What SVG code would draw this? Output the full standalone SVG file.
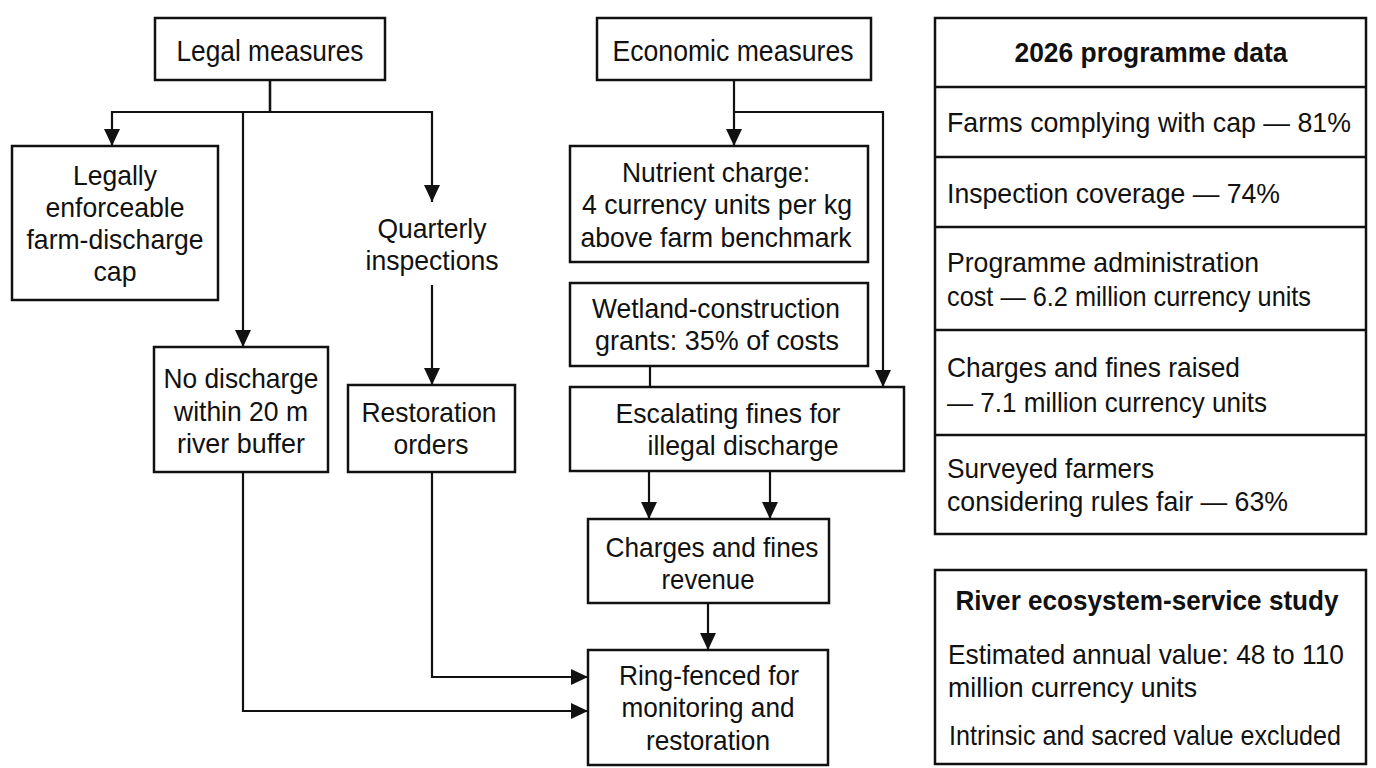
<svg xmlns="http://www.w3.org/2000/svg" width="1376" height="768" viewBox="0 0 1376 768">
<style>
.box{fill:#fff;stroke:#111;stroke-width:2.5}
.t{font-family:"Liberation Sans",Arial,sans-serif;font-size:28px;fill:#111;text-anchor:middle}
.tt{font-family:"Liberation Sans",Arial,sans-serif;font-size:29px;fill:#111;text-anchor:middle}
.p{font-family:"Liberation Sans",Arial,sans-serif;font-size:28px;fill:#111}
.h{font-family:"Liberation Sans",Arial,sans-serif;font-size:28px;font-weight:bold;fill:#111;text-anchor:middle}
.c{fill:none;stroke:#111;stroke-width:2.2}
.d{fill:none;stroke:#111;stroke-width:2.5}
</style>
<defs>
<marker id="ah" markerUnits="userSpaceOnUse" markerWidth="18" markerHeight="16" refX="17" refY="8" orient="auto" viewBox="0 0 18 16">
<path d="M0,0 L17,8 L0,16 z" fill="#111"/>
</marker>
</defs>
<rect width="1376" height="768" fill="#fff"/>
<g id="connectors">
<path class="c" d="M270,80 V112 H112 V146" marker-end="url(#ah)"/>
<path class="c" d="M270,80 V112 H243 V347" marker-end="url(#ah)"/>
<path class="c" d="M270,80 V112 H432 V202" marker-end="url(#ah)"/>
<path class="c" d="M432,285 V385" marker-end="url(#ah)"/>
<path class="c" d="M243,472 V711 H588" marker-end="url(#ah)"/>
<path class="c" d="M432,472 V677 H588" marker-end="url(#ah)"/>
<path class="c" d="M734,80 V146" marker-end="url(#ah)"/>
<path class="c" d="M734,112 H883 V387" marker-end="url(#ah)"/>
<path class="c" d="M650,366 V387"/>
<path class="c" d="M649,471 V519" marker-end="url(#ah)"/>
<path class="c" d="M770,471 V519" marker-end="url(#ah)"/>
<path class="c" d="M708,603 V650" marker-end="url(#ah)"/>
</g>
<g id="legal">
<rect class="box" x="155" y="18" width="230" height="62"/>
<text class="tt" x="270" y="61" textLength="187" lengthAdjust="spacingAndGlyphs">Legal measures</text>
</g>
<g id="cap">
<rect class="box" x="12" y="146" width="206" height="154"/>
<text class="t" x="115" y="185" textLength="84" lengthAdjust="spacingAndGlyphs">Legally</text>
<text class="t" x="115" y="217" textLength="139" lengthAdjust="spacingAndGlyphs">enforceable</text>
<text class="t" x="115" y="249" textLength="177" lengthAdjust="spacingAndGlyphs">farm-discharge</text>
<text class="t" x="115" y="281" textLength="43" lengthAdjust="spacingAndGlyphs">cap</text>
</g>
<g id="buffer">
<rect class="box" x="154" y="347" width="174" height="125"/>
<text class="t" x="241" y="388" textLength="155" lengthAdjust="spacingAndGlyphs">No discharge</text>
<text class="t" x="241" y="421" textLength="134" lengthAdjust="spacingAndGlyphs">within 20 m</text>
<text class="t" x="241" y="453" textLength="128" lengthAdjust="spacingAndGlyphs">river buffer</text>
</g>
<g id="inspections">
<text class="t" x="432" y="238" textLength="109" lengthAdjust="spacingAndGlyphs">Quarterly</text>
<text class="t" x="432" y="270" textLength="133" lengthAdjust="spacingAndGlyphs">inspections</text>
</g>
<g id="restoration">
<rect class="box" x="348" y="385" width="167" height="87"/>
<text class="t" x="429" y="422" textLength="135" lengthAdjust="spacingAndGlyphs">Restoration</text>
<text class="t" x="431" y="454" textLength="75" lengthAdjust="spacingAndGlyphs">orders</text>
</g>
<g id="economic">
<rect class="box" x="597" y="18" width="274" height="62"/>
<text class="tt" x="733" y="61" textLength="241" lengthAdjust="spacingAndGlyphs">Economic measures</text>
</g>
<g id="nutrient">
<rect class="box" x="570" y="146" width="298" height="116"/>
<text class="t" x="716" y="182" textLength="188" lengthAdjust="spacingAndGlyphs">Nutrient charge:</text>
<text class="t" x="717" y="214" textLength="270" lengthAdjust="spacingAndGlyphs">4 currency units per kg</text>
<text class="t" x="716" y="247" textLength="271" lengthAdjust="spacingAndGlyphs">above farm benchmark</text>
</g>
<g id="wetland">
<rect class="box" x="570" y="283" width="298" height="83"/>
<text class="t" x="716" y="318" textLength="248" lengthAdjust="spacingAndGlyphs">Wetland-construction</text>
<text class="t" x="717" y="350" textLength="244" lengthAdjust="spacingAndGlyphs">grants: 35% of costs</text>
</g>
<g id="fines">
<rect class="box" x="570" y="387" width="334" height="84"/>
<text class="t" x="728" y="423" textLength="225" lengthAdjust="spacingAndGlyphs">Escalating fines for</text>
<text class="t" x="743" y="455" textLength="191" lengthAdjust="spacingAndGlyphs">illegal discharge</text>
</g>
<g id="revenue">
<rect class="box" x="588" y="519" width="241" height="84"/>
<text class="t" x="712" y="557" textLength="213" lengthAdjust="spacingAndGlyphs">Charges and fines</text>
<text class="t" x="708" y="589" textLength="93" lengthAdjust="spacingAndGlyphs">revenue</text>
</g>
<g id="ringfenced">
<rect class="box" x="588" y="650" width="240" height="115"/>
<text class="t" x="709" y="685" textLength="180" lengthAdjust="spacingAndGlyphs">Ring-fenced for</text>
<text class="t" x="708" y="717" textLength="173" lengthAdjust="spacingAndGlyphs">monitoring and</text>
<text class="t" x="708" y="750" textLength="124" lengthAdjust="spacingAndGlyphs">restoration</text>
</g>
<g id="programme-data">
<rect class="box" x="935" y="18" width="431" height="516"/>
<path class="d" d="M935,87 H1366 M935,157 H1366 M935,227 H1366 M935,330 H1366 M935,435 H1366"/>
<text class="h" x="1151" y="62" textLength="273" lengthAdjust="spacingAndGlyphs">2026 programme data</text>
<text class="p" x="947" y="132" textLength="404" lengthAdjust="spacingAndGlyphs">Farms complying with cap — 81%</text>
<text class="p" x="947" y="203" textLength="333" lengthAdjust="spacingAndGlyphs">Inspection coverage — 74%</text>
<text class="p" x="947" y="272" textLength="312" lengthAdjust="spacingAndGlyphs">Programme administration</text>
<text class="p" x="947" y="306" textLength="364" lengthAdjust="spacingAndGlyphs">cost — 6.2 million currency units</text>
<text class="p" x="947" y="377" textLength="293" lengthAdjust="spacingAndGlyphs">Charges and fines raised</text>
<text class="p" x="947" y="412" textLength="320" lengthAdjust="spacingAndGlyphs">— 7.1 million currency units</text>
<text class="p" x="947" y="478" textLength="207" lengthAdjust="spacingAndGlyphs">Surveyed farmers</text>
<text class="p" x="947" y="511" textLength="341" lengthAdjust="spacingAndGlyphs">considering rules fair — 63%</text>
</g>
<g id="ecosystem-study">
<rect class="box" x="935" y="570" width="431" height="194"/>
<text class="h" x="1147" y="610" textLength="383" lengthAdjust="spacingAndGlyphs">River ecosystem-service study</text>
<text class="p" x="948" y="664" textLength="396" lengthAdjust="spacingAndGlyphs">Estimated annual value: 48 to 110</text>
<text class="p" x="948" y="697" textLength="249" lengthAdjust="spacingAndGlyphs">million currency units</text>
<text class="p" x="949" y="745" font-size="25" textLength="392" lengthAdjust="spacingAndGlyphs">Intrinsic and sacred value excluded</text>
</g>
</svg>
